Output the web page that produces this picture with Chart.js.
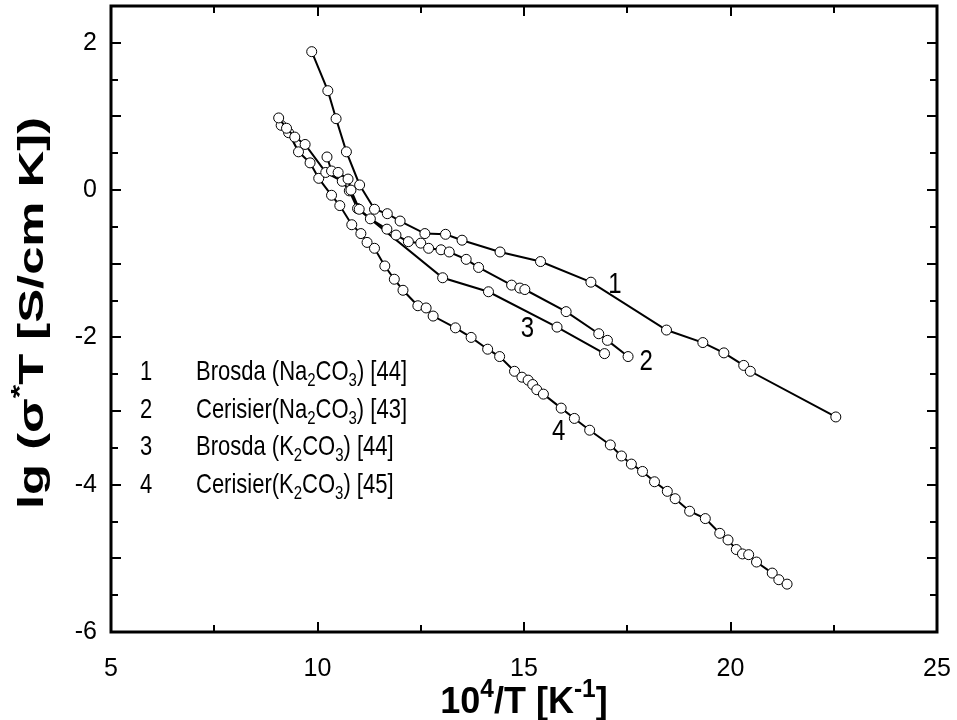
<!DOCTYPE html>
<html>
<head>
<meta charset="utf-8">
<script src="https://cdn.jsdelivr.net/npm/chart.js@4.4.0/dist/chart.umd.min.js"></script>
<style>
  html, body { margin: 0; padding: 0; background: #fff; }
  canvas { display: block; }
</style>
</head>
<body>
<canvas id="myChart" width="957" height="720"></canvas>
<script>
// 1 Brosda (Na2CO3) [44]
const brosdaNaX = [9.86, 10.25, 10.45, 10.70, 11.02, 11.38, 11.69, 12.0, 12.6, 13.1, 13.5, 14.42, 15.4, 16.62, 18.45, 19.33, 19.84, 20.32, 20.48, 22.55];
const brosdaNaY = [1.88, 1.35, 0.97, 0.52, 0.07, -0.26, -0.32, -0.42, -0.59, -0.60, -0.68, -0.84, -0.97, -1.25, -1.90, -2.07, -2.21, -2.38, -2.46, -3.08];

// 2 Cerisier(Na2CO3) [43]
const cerisierNaX = [10.23, 10.34, 10.5, 10.74, 10.81, 11.01, 11.28, 11.68, 11.9, 12.2, 12.5, 12.69, 12.99, 13.19, 13.6, 13.9, 14.7, 14.9, 15.02, 16.02, 16.81, 17.02, 17.52];
const cerisierNaY = [0.45, 0.26, 0.24, 0.15, 0.0, -0.26, -0.39, -0.53, -0.61, -0.70, -0.72, -0.79, -0.81, -0.84, -0.94, -1.05, -1.29, -1.33, -1.35, -1.65, -1.95, -2.04, -2.26];

// 3 Brosda (K2CO3) [44]
const brosdaKX = [9.06, 9.25, 9.45, 9.70, 10.2, 10.6, 10.77, 10.97, 13.03, 14.14, 15.8, 16.95];
const brosdaKY = [0.98, 0.84, 0.72, 0.62, 0.24, 0.12, -0.01, -0.25, -1.19, -1.38, -1.86, -2.22];

// 4 Cerisier(K2CO3) [45]
const cerisierKX = [9.12, 9.3, 9.54, 9.82, 10.03, 10.34, 10.54, 10.83, 11.05, 11.2, 11.38, 11.63, 11.86, 12.07, 12.43, 12.63, 12.8, 13.34, 13.72, 14.12, 14.41, 14.77, 14.95, 15.1, 15.21, 15.31, 15.47, 15.9, 16.22, 16.59, 17.09, 17.36, 17.6, 17.87, 18.16, 18.47, 18.66, 19.01, 19.39, 19.74, 19.94, 20.14, 20.29, 20.44, 20.63, 21.01, 21.17, 21.37];
const cerisierKY = [0.88, 0.78, 0.52, 0.37, 0.16, -0.07, -0.21, -0.47, -0.59, -0.71, -0.79, -1.03, -1.21, -1.36, -1.57, -1.60, -1.71, -1.87, -2.0, -2.16, -2.26, -2.46, -2.54, -2.58, -2.64, -2.71, -2.77, -2.96, -3.10, -3.26, -3.46, -3.61, -3.72, -3.82, -3.96, -4.09, -4.19, -4.36, -4.46, -4.66, -4.75, -4.88, -4.94, -4.95, -5.05, -5.2, -5.29, -5.35];

// tick labels
const xTicks = [5, 10, 15, 20, 25];
const yTicks = [-6, -4, -2, 0, 2];

// curve labels: number, x, y
const curveLabels = [['1', 17.2, -1.28], ['2', 17.96, -2.33], ['3', 15.08, -1.88], ['4', 15.84, -3.28]];

// legend
const legendRows = [
    ['1', [['Brosda (Na'], ['2', 'sub'], ['CO'], ['3', 'sub'], [') [44]']]],
    ['2', [['Cerisier(Na'], ['2', 'sub'], ['CO'], ['3', 'sub'], [') [43]']]],
    ['3', [['Brosda (K'], ['2', 'sub'], ['CO'], ['3', 'sub'], [') [44]']]],
    ['4', [['Cerisier(K'], ['2', 'sub'], ['CO'], ['3', 'sub'], [') [45]']]]
];

const FONT = '"Liberation Sans", Arial, sans-serif';
const STRETCH = 1.25; // text in the picture is taller than it is wide

function toPoints(xs, ys) {
    return xs.map((v, i) => ({ x: v, y: ys[i] }));
}

function makeSet(label, xs, ys) {
    return {
        label: label,
        data: toPoints(xs, ys),
        showLine: true,
        borderColor: '#000',
        borderWidth: 2,
        pointRadius: 5,
        pointBackgroundColor: '#fff',
        pointBorderColor: '#000',
        pointBorderWidth: 1,
        tension: 0
    };
}

// text with sub/superscripts, drawn from (x, y) on the baseline
function richText(ctx, parts, x, y, size, bold) {
    const w = bold ? 'bold ' : '';
    parts.forEach(p => {
        const t = p[0];
        const kind = p[1];
        let dy = 0;
        let s = size;
        if (kind === 'sub') { s = size * 0.68; dy = size * 0.22; }
        if (kind === 'sup') { s = size * 0.68; dy = -size * 0.42; }
        ctx.font = w + s + 'px ' + FONT;
        ctx.fillText(t, x, y + dy);
        x += ctx.measureText(t).width;
    });
    return x;
}

function richWidth(ctx, parts, size, bold) {
    const w = bold ? 'bold ' : '';
    let total = 0;
    parts.forEach(p => {
        const s = p[1] ? size * 0.68 : size;
        ctx.font = w + s + 'px ' + FONT;
        total += ctx.measureText(p[0]).width;
    });
    return total;
}

const decorations = {
    id: 'decorations',
    afterDraw(chart) {
        const ctx = chart.ctx;
        const a = chart.chartArea;
        const xs = chart.scales.x;
        const ys = chart.scales.y;
        ctx.save();
        ctx.strokeStyle = '#000';
        ctx.fillStyle = '#000';

        // inward ticks on all four sides
        ctx.lineWidth = 2;
        ctx.beginPath();
        for (let v = 5; v <= 25.001; v += 2.5) {
            const px = Math.round(xs.getPixelForValue(v));
            const len = (v % 5 === 0) ? 10 : 7;
            ctx.moveTo(px, a.bottom); ctx.lineTo(px, a.bottom - len);
            ctx.moveTo(px, a.top); ctx.lineTo(px, a.top + len);
        }
        for (let v = -6; v <= 2.501; v += 0.5) {
            const py = Math.round(ys.getPixelForValue(v));
            const len = (Math.abs(v % 1) < 0.001) ? 10 : 7;
            ctx.moveTo(a.left, py); ctx.lineTo(a.left + len, py);
            ctx.moveTo(a.right, py); ctx.lineTo(a.right - len, py);
        }
        ctx.stroke();

        // frame
        ctx.lineWidth = 3;
        ctx.strokeRect(a.left, a.top, a.right - a.left, a.bottom - a.top);

        ctx.textBaseline = 'alphabetic';
        ctx.textAlign = 'left';

        // curve numbers
        curveLabels.forEach(c => {
            ctx.save();
            ctx.translate(xs.getPixelForValue(c[1]), ys.getPixelForValue(c[2]));
            ctx.scale(1, STRETCH);
            ctx.font = '24px ' + FONT;
            const w = ctx.measureText(c[0]).width;
            ctx.fillText(c[0], -w / 2, 7);
            ctx.restore();
        });

        // legend
        legendRows.forEach((row, i) => {
            ctx.save();
            ctx.translate(0, 380 + i * 37.7);
            ctx.scale(1, STRETCH);
            ctx.font = '22px ' + FONT;
            ctx.fillText(row[0], 140, 0);
            richText(ctx, row[1], 196, 0, 22, false);
            ctx.restore();
        });

        // x title
        ctx.save();
        ctx.translate((a.left + a.right) / 2, 713);
        ctx.scale(1, 1.05);
        const xt = [['10'], ['4', 'sup'], ['/T [K'], ['-1', 'sup'], [']']];
        const xw = richWidth(ctx, xt, 36, true);
        richText(ctx, xt, -xw / 2, 0, 36, true);
        ctx.restore();

        // y title
        ctx.save();
        ctx.translate(43, 313);
        ctx.rotate(-Math.PI / 2);
        ctx.scale(1.45, 1);
        const yt = [['lg (σ'], ['*', 'sup'], ['T [S/cm K])']];
        const yw = richWidth(ctx, yt, 35, true);
        richText(ctx, yt, -yw / 2, 0, 35, true);
        ctx.restore();

        ctx.restore();
    }
};

new Chart(
    document.getElementById('myChart'),
    {
        type: 'scatter',
        data: {
            datasets: [
                makeSet('1', brosdaNaX, brosdaNaY),
                makeSet('2', cerisierNaX, cerisierNaY),
                makeSet('3', brosdaKX, brosdaKY),
                makeSet('4', cerisierKX, cerisierKY)
            ]
        },
        options: {
            responsive: false,
            animation: false,
            layout: { padding: { top: 6, right: 20, left: 0, bottom: 0 } },
            plugins: {
                legend: { display: false },
                tooltip: { enabled: false }
            },
            scales: {
                x: {
                    type: 'linear',
                    min: 5,
                    max: 25,
                    grid: { display: false, drawTicks: false },
                    border: { display: false },
                    afterFit: s => { s.height = 88; s.paddingLeft = 0; s.paddingRight = 0; },
                    ticks: {
                        stepSize: 5,
                        padding: 22,
                        maxRotation: 0,
                        color: '#000',
                        font: { size: 25, family: FONT },
                        callback: v => xTicks.includes(v) ? v : ''
                    }
                },
                y: {
                    type: 'linear',
                    min: -6,
                    max: 2.5,
                    grid: { display: false, drawTicks: false },
                    border: { display: false },
                    afterFit: s => { s.width = 111; s.paddingTop = 0; s.paddingBottom = 0; },
                    ticks: {
                        stepSize: 2,
                        padding: 14,
                        color: '#000',
                        font: { size: 25, family: FONT },
                        callback: v => yTicks.includes(v) ? v : ''
                    }
                }
            }
        },
        plugins: [decorations]
    }
);
</script>
</body>
</html>
